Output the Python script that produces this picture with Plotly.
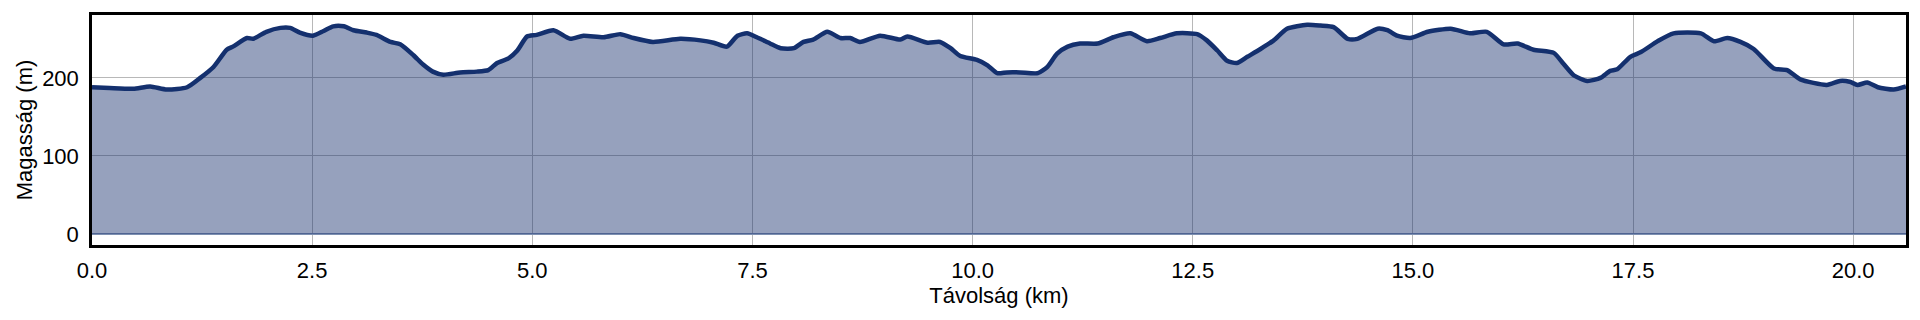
import plotly.graph_objects as go

distance_km = [0.0, 0.2, 0.47, 0.66, 0.85, 1.08, 1.23, 1.38, 1.53, 1.6, 1.76, 1.83, 1.98, 2.14, 2.25,
               2.36, 2.51, 2.63, 2.74, 2.86, 2.97, 3.12, 3.23, 3.39, 3.5, 3.65, 3.76, 3.87, 3.99,
               4.18, 4.37, 4.5, 4.6, 4.73, 4.83, 4.94, 5.05, 5.24, 5.43, 5.58, 5.81, 6.0, 6.15,
               6.37, 6.68, 6.91, 7.06, 7.21, 7.33, 7.44, 7.55, 7.7, 7.82, 7.97, 8.08, 8.19, 8.35,
               8.5, 8.61, 8.72, 8.95, 9.18, 9.26, 9.49, 9.63, 9.75, 9.86, 10.05, 10.17, 10.28,
               10.39, 10.54, 10.74, 10.85, 10.96, 11.08, 11.22, 11.42, 11.6, 11.79, 11.98, 12.13,
               12.32, 12.55, 12.66, 12.78, 12.89, 13.0, 13.12, 13.27, 13.42, 13.57, 13.8, 13.95,
               14.1, 14.26, 14.37, 14.6, 14.71, 14.82, 14.97, 15.17, 15.43, 15.65, 15.84, 16.03,
               16.19, 16.37, 16.6, 16.71, 16.83, 16.98, 17.13, 17.24, 17.32, 17.47, 17.59, 17.78,
               17.96, 18.27, 18.42, 18.57, 18.72, 18.87, 19.1, 19.25, 19.4, 19.7, 19.85, 19.96,
               20.05, 20.16, 20.28, 20.46, 20.6]
elevation_m = [188, 187, 186, 189, 185, 188, 200, 214, 236, 240, 251, 250, 259, 264, 264,
               258, 254, 260, 266, 266, 261, 258, 255, 246, 243, 229, 217, 208, 204,
               207, 208, 210, 219, 225, 235, 253, 255, 261, 250, 254, 252, 256, 251,
               246, 250, 248, 245, 240, 254, 257, 252, 244, 238, 238, 246, 249, 259,
               251, 251, 246, 254, 249, 253, 245, 246, 238, 228, 223, 216, 206,
               207, 207, 206, 214, 231, 240, 244, 244, 252, 257, 247, 251,
               257, 256, 248, 235, 222, 219, 227, 237, 248, 263, 268, 267,
               265, 250, 250, 263, 261, 254, 251, 259, 263, 257, 259, 243,
               244, 236, 232, 218, 203, 196, 200, 209, 211, 227, 233, 247,
               257, 257, 247, 251, 246, 237, 212, 210, 198, 191, 196, 195,
               191, 194, 188, 185, 189]

x_ticks = [0, 2.5, 5, 7.5, 10, 12.5, 15, 17.5, 20]
x_tick_labels = ["0.0", "2.5", "5.0", "7.5", "10.0", "12.5", "15.0", "17.5", "20.0"]
y_ticks = [0, 100, 200]

fig = go.Figure()
fig.add_trace(go.Scatter(
    x=distance_km, y=elevation_m, mode="lines",
    line=dict(color="#14306e", width=4.5, shape="spline", smoothing=0.6),
    fill="tozeroy", fillcolor="rgba(26,51,112,0.46)",
    hoverinfo="skip", showlegend=False,
))

font = dict(family="Liberation Sans, Arial, sans-serif", size=22, color="#000")
fig.update_layout(
    width=1920, height=320,
    margin=dict(l=92, r=14, t=15, b=75),
    paper_bgcolor="white", plot_bgcolor="white",
    font=font,
)
fig.update_xaxes(
    range=[0, 20.6], tickvals=x_ticks, ticktext=x_tick_labels,
    showgrid=True, gridcolor="#b8b8b8", gridwidth=1.3,
    showline=True, linecolor="black", linewidth=2.5, mirror=True,
    ticks="", zeroline=False, ticklabelstandoff=4,
    title=dict(text="Távolság (km)", font=font, standoff=2),
)
fig.update_yaxes(
    range=[-14, 280.5], tickvals=y_ticks,
    showgrid=True, gridcolor="#b8b8b8", gridwidth=1.3,
    showline=True, linecolor="black", linewidth=2.5, mirror=True,
    ticks="", zeroline=True, zerolinecolor="#7d8fb0", zerolinewidth=1.5,
    ticklabelstandoff=6,
    title=dict(text="Magasság (m)", font=font, standoff=4),
)

fig.write_html("out.html")
